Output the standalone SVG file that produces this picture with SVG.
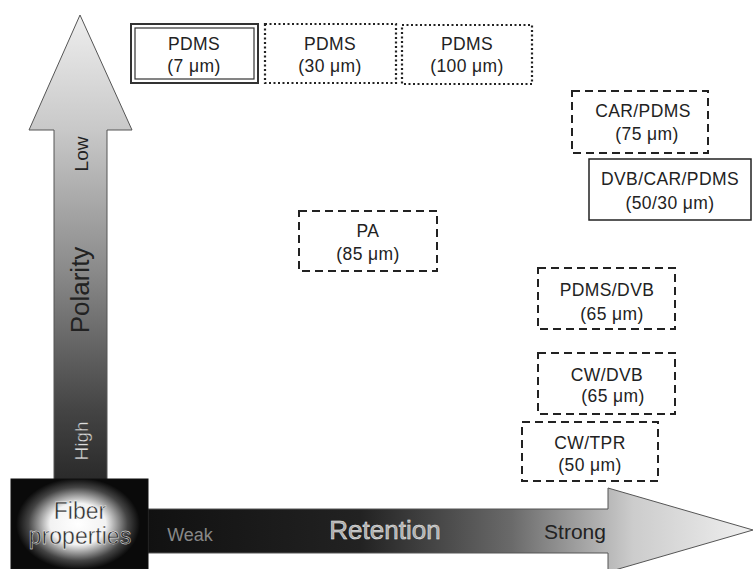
<svg xmlns="http://www.w3.org/2000/svg" width="754" height="569" viewBox="0 0 754 569">
<defs>
<linearGradient id="gv" x1="0" y1="15" x2="0" y2="480" gradientUnits="userSpaceOnUse">
<stop offset="0" stop-color="#eeeeee"/>
<stop offset="0.25" stop-color="#c8c8c8"/>
<stop offset="0.55" stop-color="#8a8a8a"/>
<stop offset="0.85" stop-color="#444444"/>
<stop offset="1" stop-color="#2a2a2a"/>
</linearGradient>
<linearGradient id="gh" x1="148" y1="0" x2="754" y2="0" gradientUnits="userSpaceOnUse">
<stop offset="0" stop-color="#111111"/>
<stop offset="0.35" stop-color="#222222"/>
<stop offset="0.6" stop-color="#6a6a6a"/>
<stop offset="0.8" stop-color="#cccccc"/>
<stop offset="1" stop-color="#f0f0f0"/>
</linearGradient>
<radialGradient id="gf" cx="0" cy="0" r="1" gradientUnits="userSpaceOnUse" gradientTransform="translate(78,524) scale(62,46)">
<stop offset="0" stop-color="#ffffff"/>
<stop offset="0.45" stop-color="#f2f2f2"/>
<stop offset="0.8" stop-color="#444444"/>
<stop offset="1" stop-color="#0a0a0a"/>
</radialGradient>
</defs>
<style>
.t{font-family:"Liberation Sans",Arial,sans-serif;font-size:17.5px;letter-spacing:0.4px;fill:#222;text-anchor:middle}
.dash{fill:#fff;stroke:#222;stroke-width:2;stroke-dasharray:8 5}
.dot{fill:#fff;stroke:#222;stroke-width:2.2;stroke-dasharray:2 2.5}
.solid{fill:#fff;stroke:#222;stroke-width:1.5}
.ax{font-family:"Liberation Sans",Arial,sans-serif;text-anchor:middle}
</style>
<rect width="754" height="569" fill="#ffffff"/>
<g id="polarity-axis">
<path d="M80,15 L132,130 L107,130 L107,480 L54,480 L54,130 L29,130 Z" fill="url(#gv)" stroke="#555" stroke-width="1"/>
<text class="ax" transform="translate(88,154) rotate(-90)" font-size="19" fill="#222">Low</text>
<text class="ax" transform="translate(89,290) rotate(-90)" font-size="26" fill="#222">Polarity</text>
<text class="ax" transform="translate(88,441) rotate(-90)" font-size="19" fill="#ddd" stroke="#333" stroke-width="0.4">High</text>
</g>
<g id="retention-axis">
<path d="M148,509 L608,509 L608,488 L753,530 L608,572 L608,553 L148,553 Z" fill="url(#gh)" stroke="#555" stroke-width="1"/>
<text class="ax" x="190" y="541" font-size="18" fill="#888">Weak</text>
<text class="ax" x="385" y="539" font-size="26" fill="#aaa" stroke="#eee" stroke-width="0.5">Retention</text>
<text class="ax" x="575" y="539" font-size="21" fill="#222">Strong</text>
</g>
<g id="fiber-properties">
<rect x="11" y="479" width="137" height="90" fill="url(#gf)" stroke="#111" stroke-width="1"/>
<text class="ax" x="80" y="519" font-size="23" fill="#2a2a2a" stroke="#fff" stroke-width="0.4">Fiber</text>
<text class="ax" x="80" y="544" font-size="23" fill="#2a2a2a" stroke="#fff" stroke-width="0.4">properties</text>
</g>
<g id="pdms7">
<rect x="131" y="24" width="127" height="59" fill="#fff" stroke="#333" stroke-width="2"/>
<rect x="135" y="28" width="119" height="51" fill="none" stroke="#333" stroke-width="1.2"/>
<text class="t" x="194" y="50">PDMS</text>
<text class="t" x="194" y="72">(7 μm)</text>
</g>
<g id="pdms30">
<rect class="dot" x="265" y="24" width="131" height="59"/>
<text class="t" x="330" y="50">PDMS</text>
<text class="t" x="330" y="72">(30 μm)</text>
</g>
<g id="pdms100">
<rect class="dot" x="402" y="25" width="130" height="59"/>
<text class="t" x="467" y="50">PDMS</text>
<text class="t" x="467" y="72">(100 μm)</text>
</g>
<g id="car-pdms">
<rect class="dash" x="572" y="91" width="136" height="62"/>
<text class="t" x="643" y="117">CAR/PDMS</text>
<text class="t" x="647" y="140">(75 μm)</text>
</g>
<g id="dvb-car-pdms">
<rect class="solid" x="589" y="159" width="162" height="61"/>
<text class="t" x="670" y="185">DVB/CAR/PDMS</text>
<text class="t" x="670" y="209">(50/30 μm)</text>
</g>
<g id="pa">
<rect class="dash" x="299" y="211" width="138" height="60"/>
<text class="t" x="368" y="237">PA</text>
<text class="t" x="368" y="260">(85 μm)</text>
</g>
<g id="pdms-dvb">
<rect class="dash" x="538" y="268" width="137" height="61"/>
<text class="t" x="607" y="296">PDMS/DVB</text>
<text class="t" x="612" y="320">(65 μm)</text>
</g>
<g id="cw-dvb">
<rect class="dash" x="538" y="353" width="137" height="61"/>
<text class="t" x="607" y="381">CW/DVB</text>
<text class="t" x="613" y="402">(65 μm)</text>
</g>
<g id="cw-tpr">
<rect class="dash" x="522" y="422" width="136" height="59"/>
<text class="t" x="590" y="449">CW/TPR</text>
<text class="t" x="590" y="471">(50 μm)</text>
</g>
<g id="connectors"/>
</svg>
